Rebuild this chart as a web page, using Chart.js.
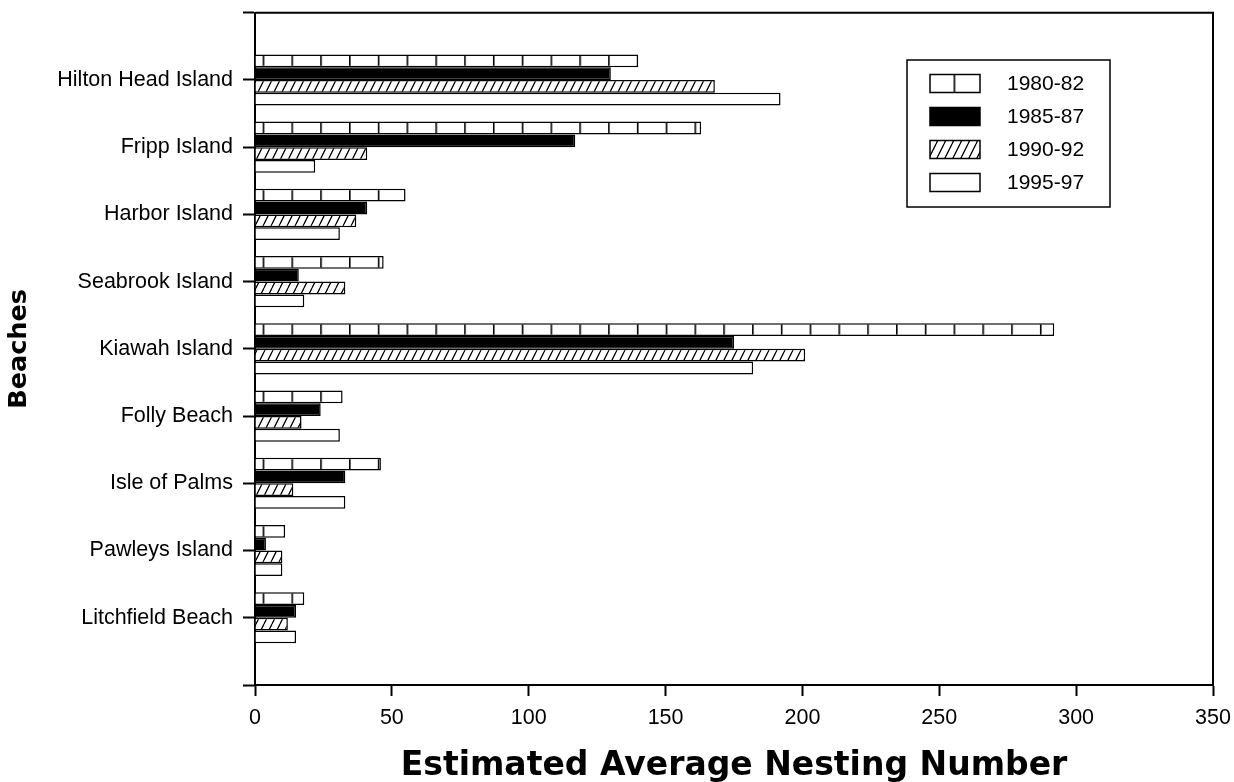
<!DOCTYPE html>
<html>
<head>
<meta charset="utf-8">
<script src="https://cdn.jsdelivr.net/npm/chart.js@4.4.1/dist/chart.umd.min.js"></script>
<style>
  html, body { margin: 0; padding: 0; background: #ffffff; }
  #wrap { width: 1234px; height: 782px; position: relative; }
</style>
</head>
<body>
<div id="wrap"><canvas id="c" width="1234" height="782"></canvas></div>
<script>
// ---- data ----
const beaches = ["Hilton Head Island", "Fripp Island", "Harbor Island", "Seabrook Island",
  "Kiawah Island", "Folly Beach", "Isle of Palms", "Pawleys Island", "Litchfield Beach"];
const periods = ["1980-82", "1985-87", "1990-92", "1995-97"];
const nests1980 = [140, 163, 55, 47, 292, 32, 46, 11, 18];
const nests1985 = [130, 117, 41, 16, 175, 24, 33, 4, 15];
const nests1990 = [168, 41, 37, 33, 201, 17, 14, 10, 12];
const nests1995 = [192, 22, 31, 18, 182, 31, 33, 10, 15];
const xTicks = [0, 50, 100, 150, 200, 250, 300, 350];

// ---- patterns ----
function brickPattern(ctx) {
  const t = document.createElement('canvas');
  t.width = 29; t.height = 4;
  const g = t.getContext('2d');
  g.fillStyle = '#fff'; g.fillRect(0, 0, 29, 4);
  g.fillStyle = '#000'; g.fillRect(0, 0, 1.6, 4);
  const p = ctx.createPattern(t, 'repeat');
  p.setTransform(new DOMMatrix([28.79 / 29, 0, 0, 1, 262.6, 0]));
  return p;
}
function hatchPattern(ctx) {
  const t = document.createElement('canvas');
  t.width = 8; t.height = 16;
  const g = t.getContext('2d');
  g.fillStyle = '#fff'; g.fillRect(0, 0, 8, 16);
  g.strokeStyle = '#000'; g.lineWidth = 1.3;
  g.beginPath();
  for (let k = -1; k <= 1; k++) { g.moveTo(k * 8, 16); g.lineTo(k * 8 + 8, 0); }
  g.stroke();
  return ctx.createPattern(t, 'repeat');
}

const canvas = document.getElementById('c');
const ctx = canvas.getContext('2d');
const fills = [brickPattern(ctx), '#000000', hatchPattern(ctx), '#ffffff'];
const seriesVals = [nests1980, nests1985, nests1990, nests1995];

const FONT = "'Liberation Sans', Arial, Helvetica, sans-serif";
const TITLE_FONT = "'DejaVu Sans', 'Liberation Sans', Arial, sans-serif";

const datasets = seriesVals.map((vals, d) => ({
  label: periods[d],
  data: vals.map((v, i) => ({ x: v, y: i + 1 })),
  backgroundColor: fills[d],
  borderColor: '#000',
  borderWidth: 1.5,
  categoryPercentage: 0.76,
  barPercentage: 1.0
}));

const framePlugin = {
  id: 'frame',
  afterDraw(chart) {
    const { ctx, chartArea: a } = chart;
    ctx.save();
    ctx.strokeStyle = '#000'; ctx.lineWidth = 2;
    ctx.beginPath();
    ctx.moveTo(a.left, a.top); ctx.lineTo(a.right, a.top); ctx.lineTo(a.right, a.bottom);
    ctx.stroke();
    // legend
    const bx = 907, by = 60, bw = 203, bh = 147;
    ctx.lineWidth = 1.5;
    ctx.fillStyle = '#fff';
    ctx.fillRect(bx, by, bw, bh);
    ctx.strokeRect(bx, by, bw, bh);
    ctx.font = "21px " + FONT;
    ctx.textBaseline = 'middle';
    chart.data.datasets.forEach((ds, i) => {
      const cy = 83.5 + i * 33;
      ctx.fillStyle = ds.backgroundColor;
      ctx.fillRect(930, cy - 9, 50, 18);
      ctx.lineWidth = 1.5; ctx.strokeStyle = '#000';
      ctx.strokeRect(930, cy - 9, 50, 18);
      ctx.fillStyle = '#000';
      ctx.fillText(ds.label, 1007, cy + 1);
    });
    ctx.restore();
  }
};

new Chart(canvas, {
  type: 'bar',
  data: { datasets },
  plugins: [framePlugin],
  options: {
    indexAxis: 'y',
    responsive: false,
    animation: false,
    layout: { padding: { top: 12.7, right: 21, left: 0, bottom: 0 } },
    plugins: { legend: { display: false }, tooltip: { enabled: false } },
    scales: {
      x: {
        type: 'linear', min: 0, max: 350, offset: false,
        afterBuildTicks: s => { s.ticks = xTicks.map(v => ({ value: v })); },
        afterFit: s => { s.height = 97; s.paddingLeft = 0; s.paddingRight = 0; },
        grid: { drawOnChartArea: false, drawTicks: true, tickLength: 11, tickColor: '#000', tickWidth: 2, offset: false },
        border: { display: true, color: '#000', width: 2 },
        ticks: { color: '#000', font: { family: FONT, size: 21.5 }, padding: 9, maxRotation: 0 },
        title: { display: true, text: 'Estimated Average Nesting Number', color: '#000',
                 font: { family: TITLE_FONT, size: 33, weight: 'bold' }, padding: { top: 0, bottom: -4 } }
      },
      y: {
        type: 'linear', min: 0, max: 10, reverse: true, offset: false,
        afterBuildTicks: s => { s.ticks = [0, 1, 2, 3, 4, 5, 6, 7, 8, 9, 10].map(v => ({ value: v })); },
        afterFit: s => { s.width = 255; s.paddingTop = 0; s.paddingBottom = 0; },
        grid: { drawOnChartArea: false, drawTicks: true, tickLength: 12, tickColor: '#000', tickWidth: 2, offset: false },
        border: { display: true, color: '#000', width: 2 },
        ticks: { color: '#000', font: { family: FONT, size: 21.5 }, padding: 10,
                 callback: v => (v >= 1 && v <= beaches.length) ? beaches[v - 1] : '' },
        title: { display: true, text: 'Beaches', color: '#000',
                 font: { family: TITLE_FONT, size: 25.5, weight: 'bold' }, padding: { top: 3.7, bottom: 0 } }
      }
    }
  }
});
</script>
</body>
</html>
